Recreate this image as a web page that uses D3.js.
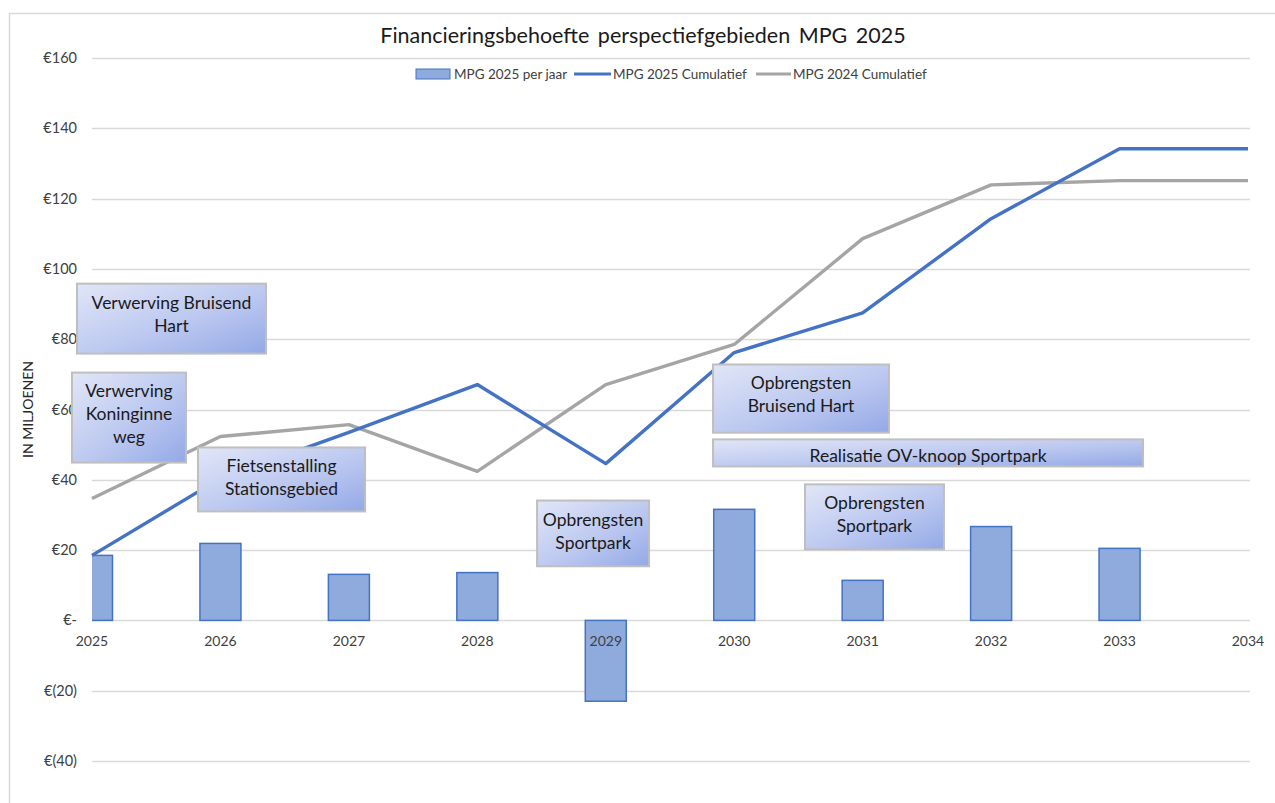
<!DOCTYPE html>
<html><head><meta charset="utf-8">
<script src="https://cdn.jsdelivr.net/npm/d3@7"></script>
<style>
html,body{margin:0;padding:0;background:#fff;}
svg{display:block;font-family:Lato,"Open Sans",sans-serif;}
</style></head>
<body>
<svg id="chart" width="1275" height="803"></svg>
<script>
const years = ["2025","2026","2027","2028","2029","2030","2031","2032","2033","2034"];
const perJaar2025 = [18.5, 21.9, 13.1, 13.6, -23.0, 31.6, 11.4, 26.7, 20.5, 0];
const cumulatief2025 = [18.5, 40.4, 53.5, 67.1, 44.6, 76.2, 87.5, 114.3, 134.2, 134.2];
const cumulatief2024 = [34.7, 52.3, 55.7, 42.4, 67.1, 78.5, 108.6, 123.9, 125.1, 125.1];
const yTicks = [-40, -20, 0, 20, 40, 60, 80, 100, 120, 140, 160];
const seriesNames = ["MPG 2025 per jaar", "MPG 2025 Cumulatief", "MPG 2024 Cumulatief"];
const titleText = "Financieringsbehoefte perspectiefgebieden MPG 2025";
const yTitle = "IN MILJOENEN";
// annotation boxes: x in category-index units, y in value units
const annotations = [
  {lines:["Verwerving Bruisend","Hart"], x0:-0.117, x1:1.355, y0:95.8, y1:75.9, textOffset:-4},
  {lines:["Verwerving","Koninginne","weg"], x0:-0.156, x1:0.732, y0:70.5, y1:44.9, textOffset:-4},
  {lines:["Fietsenstalling","Stationsgebied"], x0:0.825, x1:2.126, y0:49.2, y1:31.0, textOffset:-2},
  {lines:["Opbrengsten","Sportpark"], x0:3.465, x1:4.337, y0:34.1, y1:15.4, textOffset:-2},
  {lines:["Opbrengsten","Bruisend Hart"], x0:4.835, x1:6.205, y0:72.8, y1:53.4, textOffset:-4},
  {lines:["Realisatie OV-knoop Sportpark"], x0:4.835, x1:8.183, y0:51.5, y1:43.8, textOffset:3},
  {lines:["Opbrengsten","Sportpark"], x0:5.551, x1:6.633, y0:38.7, y1:20.2, textOffset:-3}
];

const svg = d3.select("#chart");
const W = 1275, H = 803;
const plotL = 92, plotR = 1248, yTop = 58, yBot = 761;

const x = d3.scalePoint().domain(years).range([plotL, plotR]).padding(0);
const xi = d3.scaleLinear().domain([0, years.length-1]).range([plotL, plotR]);
const y = d3.scaleLinear().domain([-40, 160]).range([yBot, yTop]);

// frame
svg.append("path").attr("d", `M9.5,${H} V13.5 H${W}`).attr("fill","none").attr("stroke","#d9d9d9").attr("stroke-width",1.5);

// gradient
const defs = svg.append("defs");
const grad = defs.append("linearGradient").attr("id","boxGrad").attr("x1","0").attr("y1","0").attr("x2","1").attr("y2","1");
grad.append("stop").attr("offset","0%").attr("stop-color","#e1e6f7");
grad.append("stop").attr("offset","55%").attr("stop-color","#bcc8f0");
grad.append("stop").attr("offset","100%").attr("stop-color","#93a9e6");
defs.append("clipPath").attr("id","plotClip").append("rect")
  .attr("x", plotL).attr("y", 0).attr("width", plotR - plotL + 30).attr("height", H);

// gridlines
svg.append("g").selectAll("line").data(yTicks).join("line")
  .attr("x1", plotL).attr("x2", 1250)
  .attr("y1", d => Math.round(y(d))+0.5).attr("y2", d => Math.round(y(d))+0.5)
  .attr("stroke", "#d9d9d9").attr("stroke-width", 1.5);

// y axis labels
const fmt = d => d === 0 ? "€-" : (d < 0 ? `€(${-d})` : `€${d}`);
svg.append("g").selectAll("text").data(yTicks).join("text")
  .attr("x", 77).attr("y", d => y(d)).attr("dy","0.35em")
  .attr("text-anchor","end").attr("font-size", 14.5).attr("fill","#404040")
  .text(fmt);

// y title
svg.append("text").attr("transform", `translate(33,${y(60)}) rotate(-90)`)
  .attr("text-anchor","middle").attr("font-size", 14).attr("fill","#262626")
  .text(yTitle);

// bars
const bw = 41;
svg.append("g").attr("clip-path","url(#plotClip)").selectAll("rect").data(perJaar2025.map((v,i)=>({v,i}))).join("rect")
  .filter(d => d.v !== 0)
  .attr("x", d => x(years[d.i]) - bw/2)
  .attr("width", bw)
  .attr("y", d => y(Math.max(0, d.v)))
  .attr("height", d => Math.abs(y(d.v) - y(0)))
  .attr("fill", "#8faadc").attr("stroke", "#4472c4").attr("stroke-width", 1.5);

// x labels
svg.append("g").selectAll("text").data(years).join("text")
  .attr("x", d => x(d)).attr("y", 641).attr("dy","0.35em")
  .attr("text-anchor","middle").attr("font-size", 14).attr("fill","#404040")
  .text(d => d);

// lines
const line = d3.line().x((d,i) => x(years[i])).y(d => y(d));
svg.append("path").datum(cumulatief2024).attr("d", line)
  .attr("fill","none").attr("stroke","#a5a5a5").attr("stroke-width", 3.4).attr("stroke-linejoin","round");
svg.append("path").datum(cumulatief2025).attr("d", line)
  .attr("fill","none").attr("stroke","#4472c4").attr("stroke-width", 3.4).attr("stroke-linejoin","round");

// annotations
const ag = svg.append("g").selectAll("g").data(annotations).join("g");
ag.append("rect")
  .attr("x", d => xi(d.x0)).attr("y", d => y(d.y0))
  .attr("width", d => xi(d.x1) - xi(d.x0)).attr("height", d => y(d.y1) - y(d.y0))
  .attr("fill","url(#boxGrad)").attr("stroke","#bfbfbf").attr("stroke-width", 2);
ag.each(function(d){
  const g = d3.select(this);
  const cx = (xi(d.x0)+xi(d.x1))/2;
  const cy = (y(d.y0)+y(d.y1))/2 + (d.textOffset||0);
  const lh = 23;
  const n = d.lines.length;
  d.lines.forEach((t,k) => {
    g.append("text").attr("x", cx).attr("y", cy + (k - (n-1)/2)*lh).attr("dy","0.35em")
      .attr("text-anchor","middle").attr("font-size", 17.5).attr("fill","#1a1a1a").text(t);
  });
});

// title
svg.append("text").attr("x", 643).attr("y", 43).attr("text-anchor","middle")
  .attr("font-size", 21.5).attr("fill","#1a1a1a").attr("word-spacing", 3).text(titleText);

// legend
const lg = svg.append("g").attr("font-size", 13.5).attr("fill","#404040");
lg.append("rect").attr("x", 416).attr("y", 69).attr("width", 34).attr("height", 10)
  .attr("fill","#8faadc").attr("stroke","#4472c4").attr("stroke-width",1);
lg.append("text").attr("x", 454).attr("y", 74).attr("dy","0.35em").text(seriesNames[0]);
lg.append("line").attr("x1", 574).attr("x2", 611).attr("y1", 74).attr("y2", 74).attr("stroke","#4472c4").attr("stroke-width",3);
lg.append("text").attr("x", 613).attr("y", 74).attr("dy","0.35em").text(seriesNames[1]);
lg.append("line").attr("x1", 756).attr("x2", 791).attr("y1", 74).attr("y2", 74).attr("stroke","#a5a5a5").attr("stroke-width",3);
lg.append("text").attr("x", 793).attr("y", 74).attr("dy","0.35em").text(seriesNames[2]);
</script>
</body></html>
